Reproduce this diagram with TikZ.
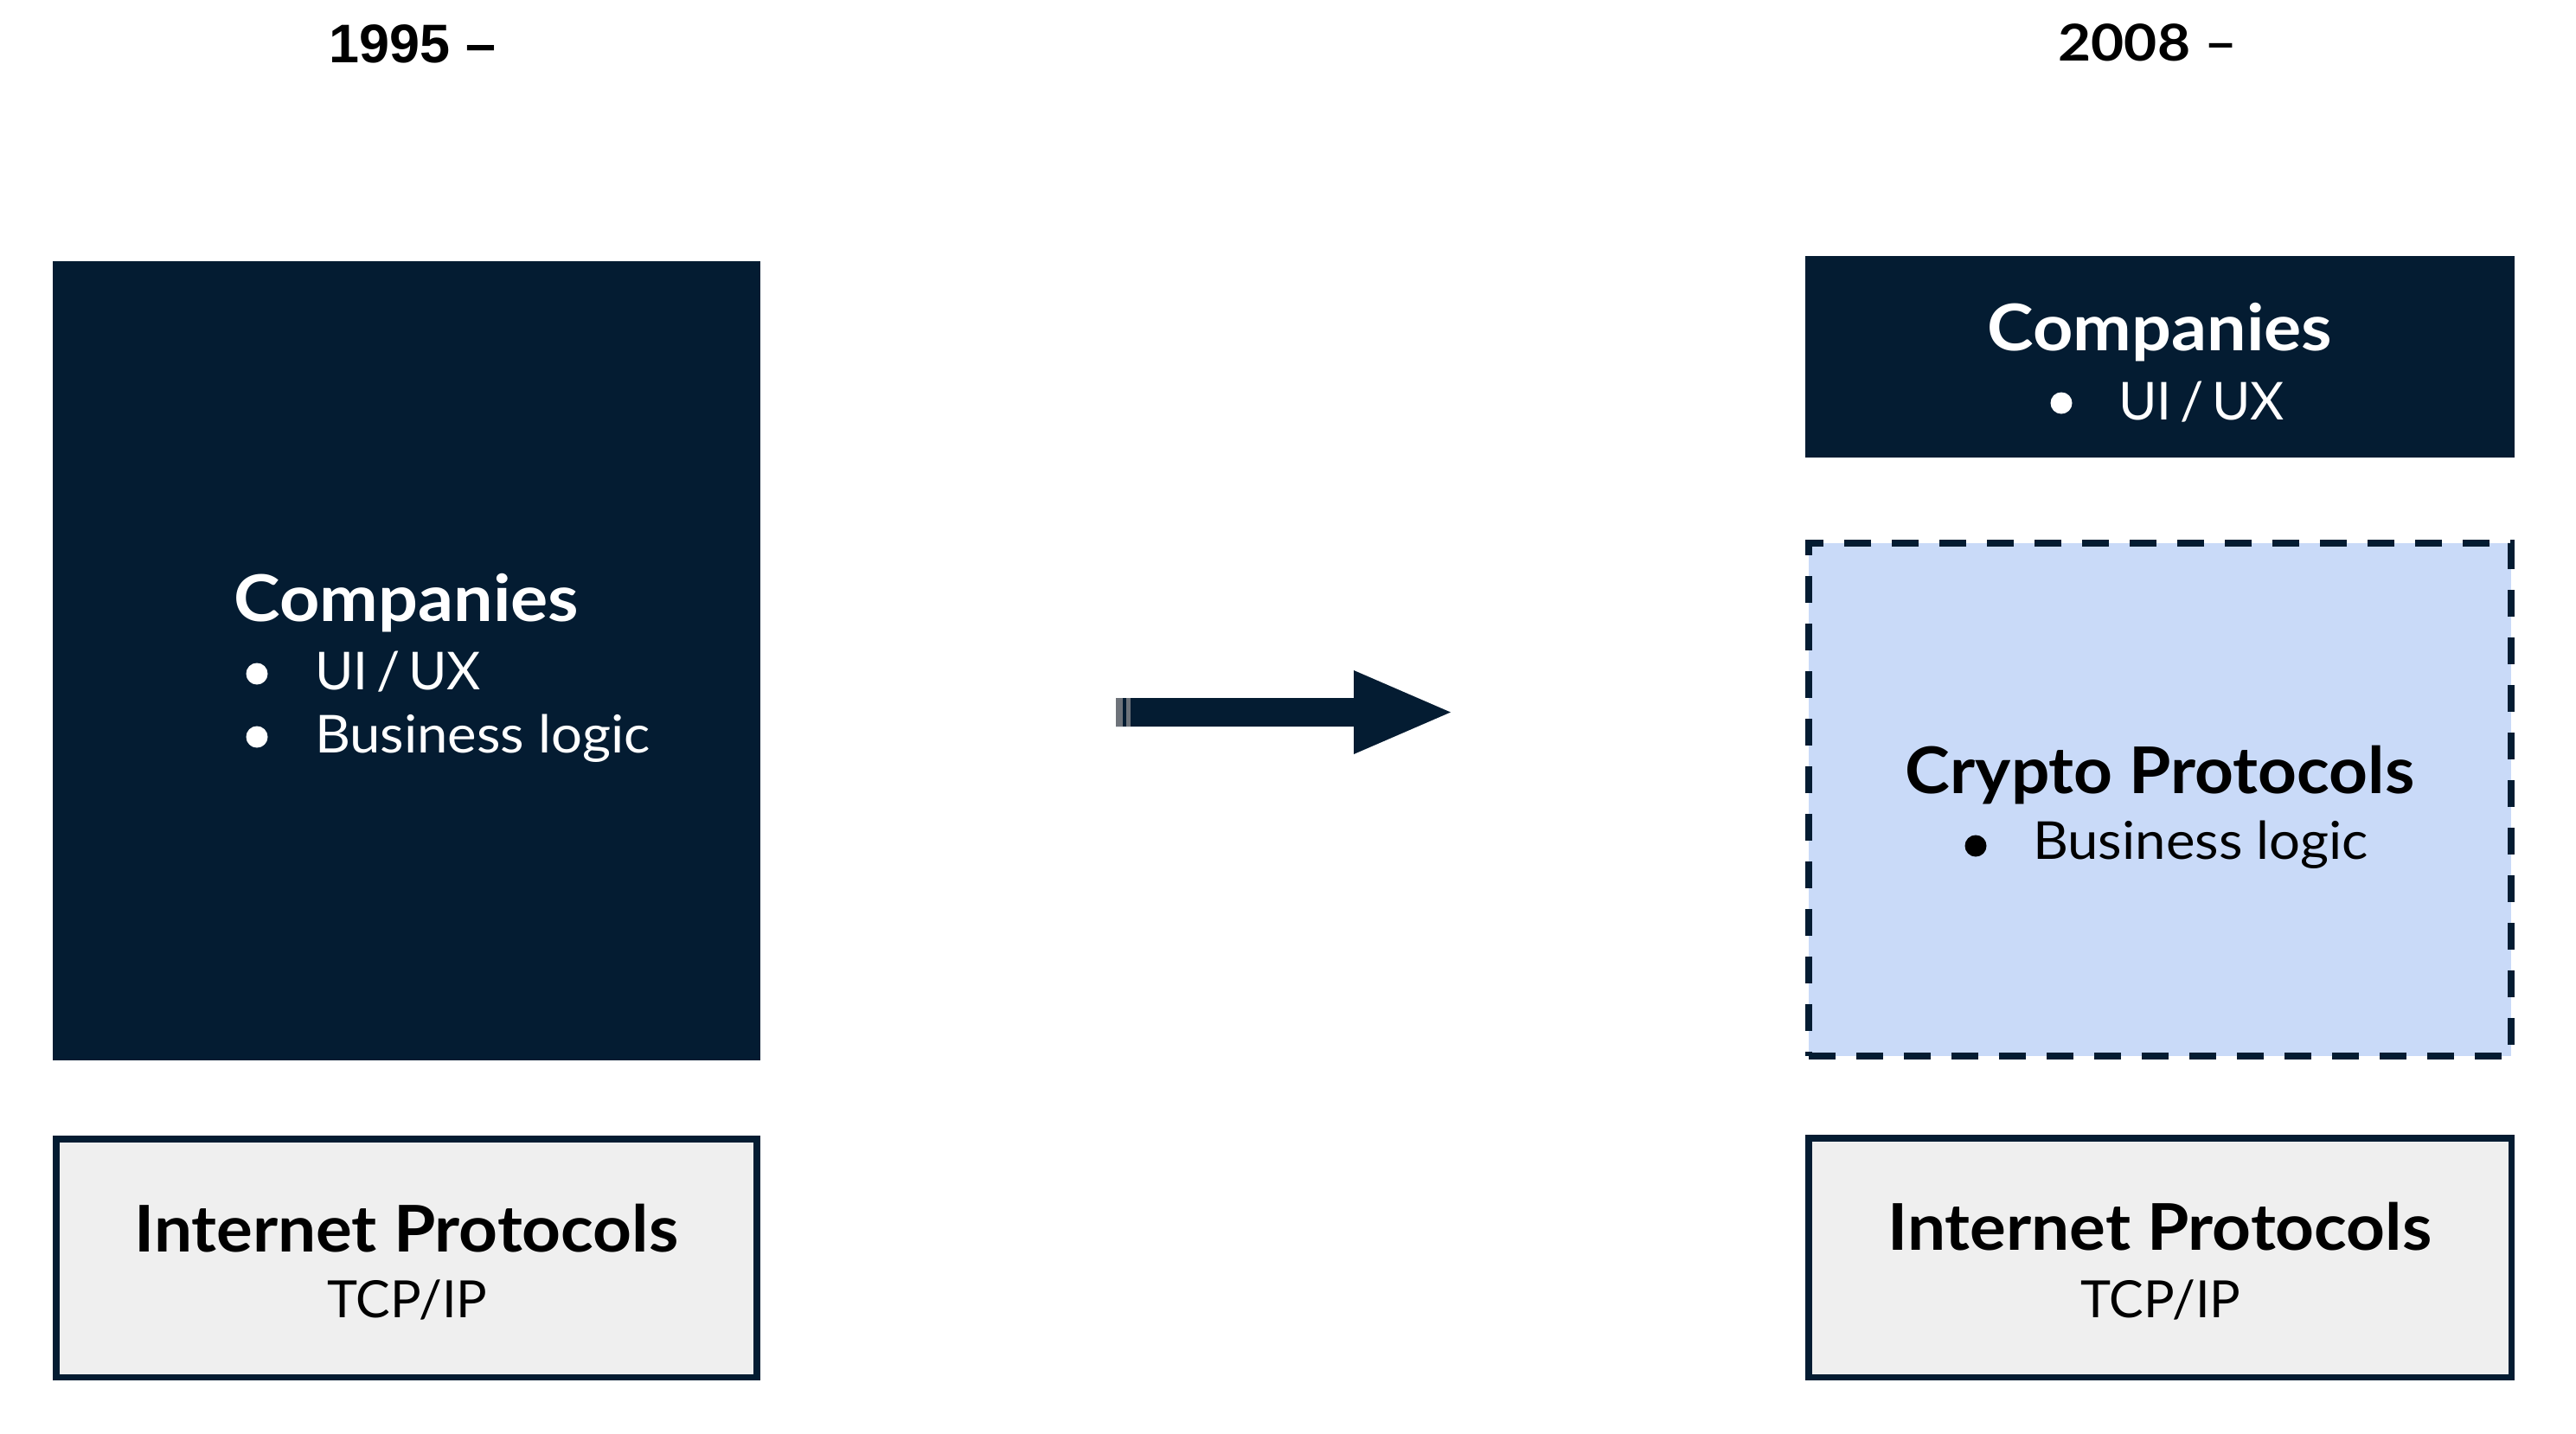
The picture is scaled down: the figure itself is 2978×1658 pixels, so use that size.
\documentclass[tikz,border=0pt]{standalone}
\usepackage{fontspec}
\setmainfont{Lato}
\newfontfamily\arialfont{Liberation Sans}
\newfontfamily\widefont[FakeStretch=1.05]{Lato}
\newfontfamily\compfont[FakeStretch=1.085]{Lato}
\newfontfamily\yearfont[FakeStretch=1.12]{Lato}
\definecolor{navy}{HTML}{041C32}
\definecolor{lightblue}{HTML}{C9DAF8}
\definecolor{lightgrey}{HTML}{EFEFEF}
\definecolor{stripe}{HTML}{6E737A}
\tikzset{
  box/.style={rectangle, inner sep=0pt, outer sep=0pt, anchor=north west},
  darkbox/.style={box, fill=navy},
  ipbox/.style={box, fill=lightgrey, draw=navy, line width=0.75mm},
  cryptobox/.style={box, fill=lightblue, draw=navy, line width=0.75mm, dash pattern=on 3.1mm off 2.4mm},
  txt/.style={inner sep=0pt, outer sep=0pt},
  title/.style={txt, anchor=base, font=\widefont\fontsize{21.2pt}{24pt}\selectfont\bfseries},
  comptitle/.style={txt, anchor=base, font=\compfont\fontsize{21.2pt}{24pt}\selectfont\bfseries},
  item/.style={txt, anchor=base west, font=\widefont\fontsize{17.2pt}{20pt}\selectfont},
  uiux/.style={txt, anchor=base west, font=\fontsize{17.2pt}{20pt}\selectfont},
  sub/.style={txt, anchor=base, font=\fontsize{16.9pt}{20pt}\selectfont},
  bulletdot/.style={circle, inner sep=0pt, minimum size=2.5mm},
}
\begin{document}
\begin{tikzpicture}[x=0.1mm,y=-0.1mm]
\useasboundingbox (0,0) rectangle (2978,1658);
\fill[white] (0,0) rectangle (2978,1658);

% headings
\node[txt, anchor=base, font=\arialfont\fontsize{17.9pt}{20pt}\selectfont\bfseries] (h1) at (477,72) {1995 –};
\node[txt, anchor=base, font=\yearfont\fontsize{16.7pt}{20pt}\selectfont\bfseries] (h2) at (2483,70) {2008 –};

% left column
\node[darkbox, minimum width=81.8mm, minimum height=92.4mm] (compL) at (61,302) {};
\node[comptitle, text=white] (compLt) at (470,718) {Companies};
\node[bulletdot, fill=white] (bL1) at (297,779) {};
\node[uiux, text=white] (uiL) at (364,797) {UI\kern0.16em/\kern0.16em UX};
\node[bulletdot, fill=white] (bL2) at (297,852) {};
\node[item, text=white] (blL) at (364,870) {Business logic};

\node[ipbox, minimum width=81.05mm, minimum height=27.55mm] (ipL) at (64.75,1316.75) {};
\node[title, text=black] (ipLt) at (470,1447) {Internet Protocols};
\node[sub, text=black] (tcpL) at (471,1523) {TCP/IP};

% arrow
\coordinate (aS) at (1290,823.5);
\coordinate (aT) at (1677,823.5);
\fill[navy] (aS) ++(0,-16.5) -- (1565,807) -- (1565,775) -- (aT) -- (1565,872) -- (1565,840) -- (1290,840) -- cycle;
\fill[stripe] (1290,807) rectangle (1298,840);
\fill[stripe] (1302,807) rectangle (1307,840);

% right column
\node[darkbox, minimum width=82.0mm, minimum height=23.3mm] (compR) at (2087,296) {};
\node[comptitle, text=white] (compRt) at (2497,405) {Companies};
\node[bulletdot, fill=white] (bR1) at (2383,466) {};
\node[uiux, text=white] (uiR) at (2449,485) {UI\kern0.16em/\kern0.16em UX};

\node[cryptobox, minimum width=81.2mm, minimum height=59.3mm] (crypto) at (2091,628) {};
\node[title, text=black] (cryptot) at (2497,917) {Crypto Protocols};
\node[bulletdot, fill=black] (bC) at (2284,978) {};
\node[item, text=black] (blC) at (2350,993) {Business logic};

\node[ipbox, minimum width=81.25mm, minimum height=27.65mm] (ipR) at (2090.75,1315.75) {};
\node[title, text=black] (ipRt) at (2497,1445) {Internet Protocols};
\node[sub, text=black] (tcpR) at (2498,1523) {TCP/IP};
\end{tikzpicture}
\end{document}
